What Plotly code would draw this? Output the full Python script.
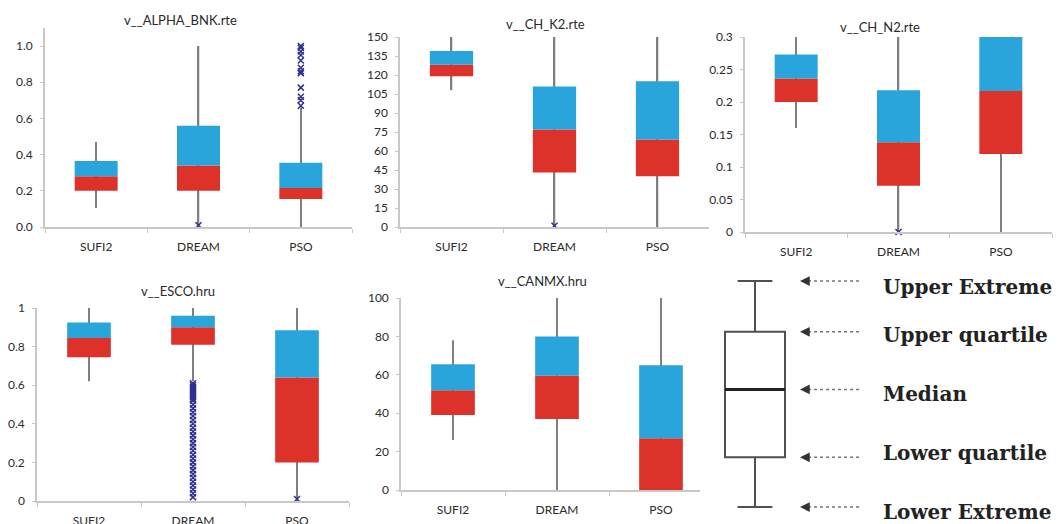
import plotly.graph_objects as go

W, H = 1063, 524
OFFX = 8  # page body margin (horizontal)
OFFY = 8  # page body margin (vertical)

categories = ["SUFI2", "DREAM", "PSO"]

titles = ["v__ALPHA_BNK.rte", "v__CH_K2.rte", "v__CH_N2.rte", "v__ESCO.hru", "v__CANMX.hru"]

# per panel: low whisker, q1, median, q3, high whisker (SUFI2, DREAM, PSO)
alpha_low = [0.105, 0.0, 0.0]
alpha_q1 = [0.20, 0.20, 0.155]
alpha_med = [0.28, 0.34, 0.215]
alpha_q3 = [0.365, 0.56, 0.355]
alpha_high = [0.47, 1.0, 0.66]

chk2_low = [108, 0, 0]
chk2_q1 = [119, 43, 40]
chk2_med = [128, 77, 69]
chk2_q3 = [139, 111, 115]
chk2_high = [150, 150, 150]

chn2_low = [0.16, 0.0, 0.0]
chn2_q1 = [0.20, 0.071, 0.12]
chn2_med = [0.236, 0.138, 0.217]
chn2_q3 = [0.273, 0.218, 0.30]
chn2_high = [0.30, 0.30, 0.30]

esco_low = [0.62, 0.62, 0.0]
esco_q1 = [0.745, 0.81, 0.20]
esco_med = [0.845, 0.90, 0.64]
esco_q3 = [0.925, 0.96, 0.885]
esco_high = [1.0, 1.0, 1.0]

canmx_low = [26, 0, 0]
canmx_q1 = [39, 37, 0]
canmx_med = [52, 59.5, 27]
canmx_q3 = [65.5, 80, 65]
canmx_high = [78, 100, 100]

# outliers
alpha_out_dream = [0.01]
alpha_out_pso = [0.67, 0.70, 0.72, 0.77, 0.85, 0.86, 0.88, 0.92, 0.95, 0.97, 0.99, 1.0]
chk2_out_dream = [1]
chn2_out_dream = [0.0]
esco_out_dream = [0.02, 0.04, 0.06, 0.08, 0.10, 0.12, 0.14, 0.16, 0.18, 0.20,
                  0.22, 0.24, 0.26, 0.28, 0.30, 0.32, 0.34, 0.36, 0.38, 0.40,
                  0.42, 0.44, 0.46, 0.48, 0.50, 0.52, 0.53, 0.54, 0.55, 0.56,
                  0.57, 0.58, 0.59, 0.60, 0.61]
esco_out_pso = [0.01]

# legend illustration values
legend_low, legend_q1, legend_med, legend_q3, legend_high = 0, 22, 52, 77.5, 100
legend_labels = ["Upper Extreme", "Upper quartile", "Median", "Lower quartile", "Lower Extreme"]
legend_label_levels = [legend_high, legend_q3, legend_med, legend_q1, legend_low]

RED = "#dc3229"
BLUE = "#29a5dc"
WHISK = "#7f7f7f"
OUTC = "#2e3192"
AXC = "#c8c8c8"
TXT = "#2a2a2a"
FONT = "Lato"


def px_x(a, b):
    return [(a - OFFX) / W, (b - OFFX) / W]


def px_y(bottom, top):
    return [1 - (bottom - OFFY) / H, 1 - (top - OFFY) / H]


panels = [
    dict(low=alpha_low, q1=alpha_q1, med=alpha_med, q3=alpha_q3, high=alpha_high,
         out=[("DREAM", alpha_out_dream), ("PSO", alpha_out_pso)],
         xd=px_x(45, 352), yd=px_y(227, 227 - 1.1 * 181), yr=[0, 1.1], dt=0.2, fmt=".1f",
         tv=[0, 0.2, 0.4, 0.6, 0.8, 1.0], title_xy=(180, 20)),
    dict(low=chk2_low, q1=chk2_q1, med=chk2_med, q3=chk2_q3, high=chk2_high,
         out=[("DREAM", chk2_out_dream)],
         xd=px_x(400, 709), yd=px_y(227, 37), yr=[0, 150], dt=15, fmt="",
         tv=None, title_xy=(545, 24)),
    dict(low=chn2_low, q1=chn2_q1, med=chn2_med, q3=chn2_q3, high=chn2_high,
         out=[("DREAM", chn2_out_dream)],
         xd=px_x(745, 1052), yd=px_y(232, 37), yr=[0, 0.3], dt=0.05, fmt="",
         tv=None, title_xy=(880, 27)),
    dict(low=esco_low, q1=esco_q1, med=esco_med, q3=esco_q3, high=esco_high,
         out=[("DREAM", esco_out_dream), ("PSO", esco_out_pso)],
         xd=px_x(37, 349), yd=px_y(501, 308), yr=[0, 1], dt=0.2, fmt="",
         tv=None, title_xy=(178, 291)),
    dict(low=canmx_low, q1=canmx_q1, med=canmx_med, q3=canmx_q3, high=canmx_high,
         out=[],
         xd=px_x(401, 713), yd=px_y(490, 298), yr=[0, 100], dt=20, fmt="",
         tv=None, title_xy=(542, 281)),
]

fig = go.Figure()
layout = dict(width=W, height=H, margin=dict(l=0, r=0, t=0, b=0, autoexpand=False),
              paper_bgcolor="white", plot_bgcolor="white", showlegend=False,
              barmode="overlay", font=dict(family=FONT, color=TXT, size=12))
annotations = []
shapes = []

for i, p in enumerate(panels, start=1):
    xa = "x" if i == 1 else f"x{i}"
    ya = "y" if i == 1 else f"y{i}"
    # whiskers as thin bars (drawn behind the boxes)
    fig.add_trace(go.Bar(x=categories, y=[h - l for h, l in zip(p["high"], p["low"])], base=p["low"],
                         marker=dict(color=WHISK, line=dict(width=0)), width=0.015,
                         xaxis=xa, yaxis=ya, hoverinfo="skip"))
    fig.add_trace(go.Bar(x=categories, y=[m - q for m, q in zip(p["med"], p["q1"])], base=p["q1"],
                         marker=dict(color=RED, line=dict(width=0)), width=0.42,
                         xaxis=xa, yaxis=ya))
    fig.add_trace(go.Bar(x=categories, y=[q - m for q, m in zip(p["q3"], p["med"])], base=p["med"],
                         marker=dict(color=BLUE, line=dict(width=0)), width=0.42,
                         xaxis=xa, yaxis=ya))
    for cat, vals in p["out"]:
        fig.add_trace(go.Scatter(x=[cat] * len(vals), y=vals, mode="markers",
                                 marker=dict(symbol="x-thin", size=6,
                                             line=dict(color=OUTC, width=1.5), color=OUTC),
                                 xaxis=xa, yaxis=ya, cliponaxis=False))
    xkey = "xaxis" if i == 1 else f"xaxis{i}"
    ykey = "yaxis" if i == 1 else f"yaxis{i}"
    layout[xkey] = dict(domain=p["xd"], anchor=ya, type="category", automargin=False,
                        categoryorder="array", categoryarray=categories,
                        range=[-0.5, 2.5], showline=True, linecolor=AXC, linewidth=1.5,
                        ticks="outside", tickson="boundaries", ticklen=4, tickcolor=AXC,
                        showgrid=False, zeroline=False, ticklabelstandoff=8,
                        tickfont=dict(family=FONT, size=12, color=TXT))
    yax = dict(domain=p["yd"], anchor=xa, range=p["yr"], dtick=p["dt"], automargin=False,
               showline=True, linecolor=AXC, linewidth=1.5, ticks="outside", ticklen=3,
               tickcolor=AXC, showgrid=False, zeroline=False, ticklabelstandoff=5,
               tickfont=dict(family=FONT, size=12, color=TXT))
    if p["fmt"]:
        yax["tickformat"] = p["fmt"]
    if p["tv"]:
        yax["tickvals"] = p["tv"]
    layout[ykey] = yax
    tx, ty = p["title_xy"]
    annotations.append(dict(text=titles[i - 1], x=(tx - OFFX) / W, y=1 - (ty - OFFY) / H,
                            xref="paper", yref="paper",
                            showarrow=False, xanchor="center", yanchor="middle",
                            font=dict(family=FONT, size=13, color=TXT)))

# legend illustration panel
fig.add_trace(go.Box(x=[55], q1=[legend_q1], median=[legend_med], q3=[legend_q3],
                     lowerfence=[legend_low], upperfence=[legend_high], width=60,
                     whiskerwidth=0.58, fillcolor="white",
                     line=dict(color="#505050", width=2),
                     xaxis="x6", yaxis="y6", hoverinfo="skip"))
layout["xaxis6"] = dict(domain=[(700 - OFFX) / W, (1063 - OFFX) / W], range=[0, 363],
                        visible=False, anchor="y6", automargin=False)
layout["yaxis6"] = dict(domain=[1 - (518.3 - OFFY) / H, 1 - (269.7 - OFFY) / H], range=[-5, 105],
                        visible=False, anchor="x6", automargin=False)

# median emphasis
shapes.append(dict(type="line", xref="x6", yref="y6", x0=25, x1=85, y0=legend_med, y1=legend_med,
                   line=dict(color="#222", width=3)))

text_offsets = [-2.6, -1.3, -1.8, 1.8, -2.4]
for lab, lvl, off in zip(legend_labels, legend_label_levels, text_offsets):
    shapes.append(dict(type="line", xref="x6", yref="y6", x0=108, x1=162, y0=lvl, y1=lvl,
                       line=dict(color="#777", width=1.5, dash="dot")))
    annotations.append(dict(x=100, y=lvl, xref="x6", yref="y6", ax=110, ay=lvl,
                            axref="x6", ayref="y6", text="", showarrow=True, arrowhead=2,
                            arrowsize=1.3, arrowwidth=1.5, arrowcolor="#333"))
    annotations.append(dict(x=181, y=lvl + off, xref="x6", yref="y6", text=lab, showarrow=False,
                            xanchor="left", yanchor="middle",
                            font=dict(family="DejaVu Serif", size=20, color="#222",
                                      weight="bold")))

layout["annotations"] = annotations
layout["shapes"] = shapes
fig.update_layout(**layout)
fig.write_html("out.html")
